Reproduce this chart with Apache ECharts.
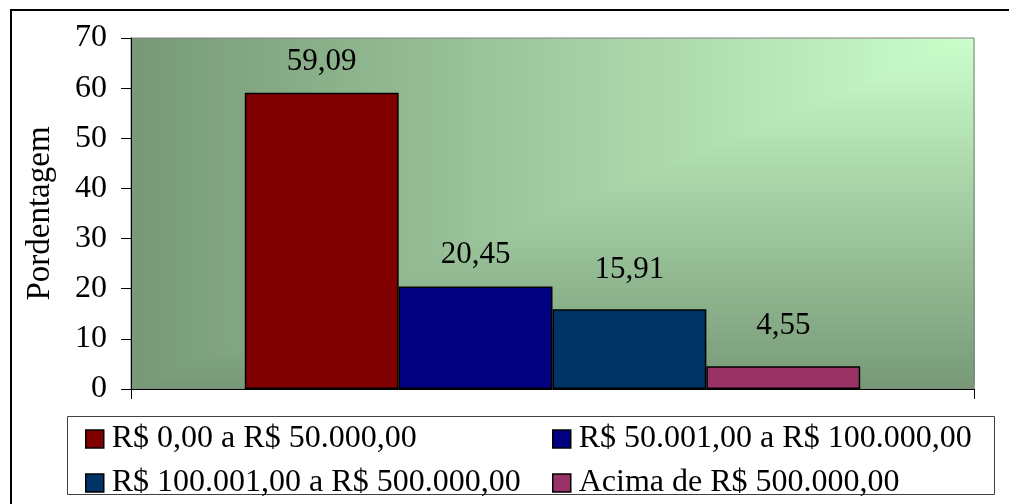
<!DOCTYPE html>
<html>
<head>
<meta charset="utf-8">
<script src="https://cdn.jsdelivr.net/npm/echarts@6/dist/echarts.min.js"></script>
<style>
html,body{margin:0;padding:0;background:#fff;}
#chart{width:1009px;height:504px;}
</style>
</head>
<body>
<div id="chart"></div>
<script>
const categories = [''];
const seriesNames = ['R$ 0,00 a R$ 50.000,00', 'R$ 50.001,00 a R$ 100.000,00', 'R$ 100.001,00 a R$ 500.000,00', 'Acima de R$ 500.000,00'];
const values = [59.09, 20.45, 15.91, 4.55];
const yTicks = { min: 0, max: 70, interval: 10 };
const axisName = 'Pordentagem';

const colors = ['#800000', '#000080', '#003366', '#993366'];
const labelDistances = [15, 16, 24, 25];
const FONT = '"Liberation Serif", "Times New Roman", Times, serif';
const GRID = { left: 131, top: 38, width: 843, height: 351 };

const chart = echarts.init(document.getElementById('chart'), null, { renderer: 'canvas' });

// rectangular "from corner" gradient behind the plot area (light at top-right)
const light = [204, 255, 204], dark = [119, 153, 119];
const bg = [];
const N = 140;
for (let k = 0; k < N; k++) {
  const a = 1 - k / N;
  const c = light.map((l, i) => Math.round(l + (dark[i] - l) * a));
  bg.push({
    type: 'rect', z: -10, silent: true,
    shape: { x: GRID.left + GRID.width * (1 - a), y: GRID.top, width: GRID.width * a + 0.5, height: GRID.height * a },
    style: { fill: 'rgb(' + c.join(',') + ')' }
  });
}
bg.push({ type: 'polyline', z: -10, silent: true, shape: { points: [[11, 600], [11, 10], [1100, 10]] }, style: { fill: null, stroke: '#000', lineWidth: 2 } });
bg.push({ type: 'rect', z: -10, silent: true, shape: { x: 67.5, y: 416.5, width: 927, height: 78 }, style: { fill: null, stroke: '#404040', lineWidth: 1 } });

const series = values.map((v, i) => ({
  name: seriesNames[i],
  type: 'bar',
  data: [v],
  barGap: '0%',
  barCategoryGap: '27%',
  itemStyle: { color: colors[i], borderColor: '#000', borderWidth: 1.5 },
  label: {
    show: true, position: 'top', distance: labelDistances[i],
    fontFamily: FONT, fontSize: 31, color: '#000',
    formatter: p => p.value.toFixed(2).replace('.', ',')
  }
}));

const legendCommon = {
  orient: 'vertical', padding: 0, itemGap: 12, itemWidth: 18, itemHeight: 18, icon: 'rect',
  itemStyle: { borderColor: '#000', borderWidth: 1.5 },
  textStyle: { fontFamily: FONT, fontSize: 32, color: '#000', padding: [0, 0, 0, 3] },
  selectedMode: false, top: 423
};

chart.setOption({
  animation: false,
  backgroundColor: '#fff',
  graphic: bg,
  grid: { left: GRID.left, top: GRID.top, width: GRID.width, height: GRID.height, show: true, borderColor: '#808080', borderWidth: 1, backgroundColor: 'transparent' },
  legend: [
    Object.assign({}, legendCommon, { left: 85, data: [seriesNames[0], seriesNames[2]] }),
    Object.assign({}, legendCommon, { left: 552, data: [seriesNames[1], seriesNames[3]] })
  ],
  xAxis: {
    type: 'category', data: categories,
    axisLine: { lineStyle: { color: '#000', width: 1 } },
    axisTick: { show: true, length: 10, lineStyle: { color: '#000' } },
    axisLabel: { show: false }
  },
  yAxis: {
    type: 'value', min: yTicks.min, max: yTicks.max, interval: yTicks.interval,
    name: axisName, nameLocation: 'middle', nameGap: 74,
    nameTextStyle: { fontFamily: FONT, fontSize: 33, color: '#000' },
    axisLine: { show: true, lineStyle: { color: '#000', width: 1 } },
    axisTick: { show: true, length: 10, lineStyle: { color: '#000' } },
    axisLabel: { fontFamily: FONT, fontSize: 32, color: '#000', margin: 24 },
    splitLine: { show: false }
  },
  series: series
});
</script>
</body>
</html>
